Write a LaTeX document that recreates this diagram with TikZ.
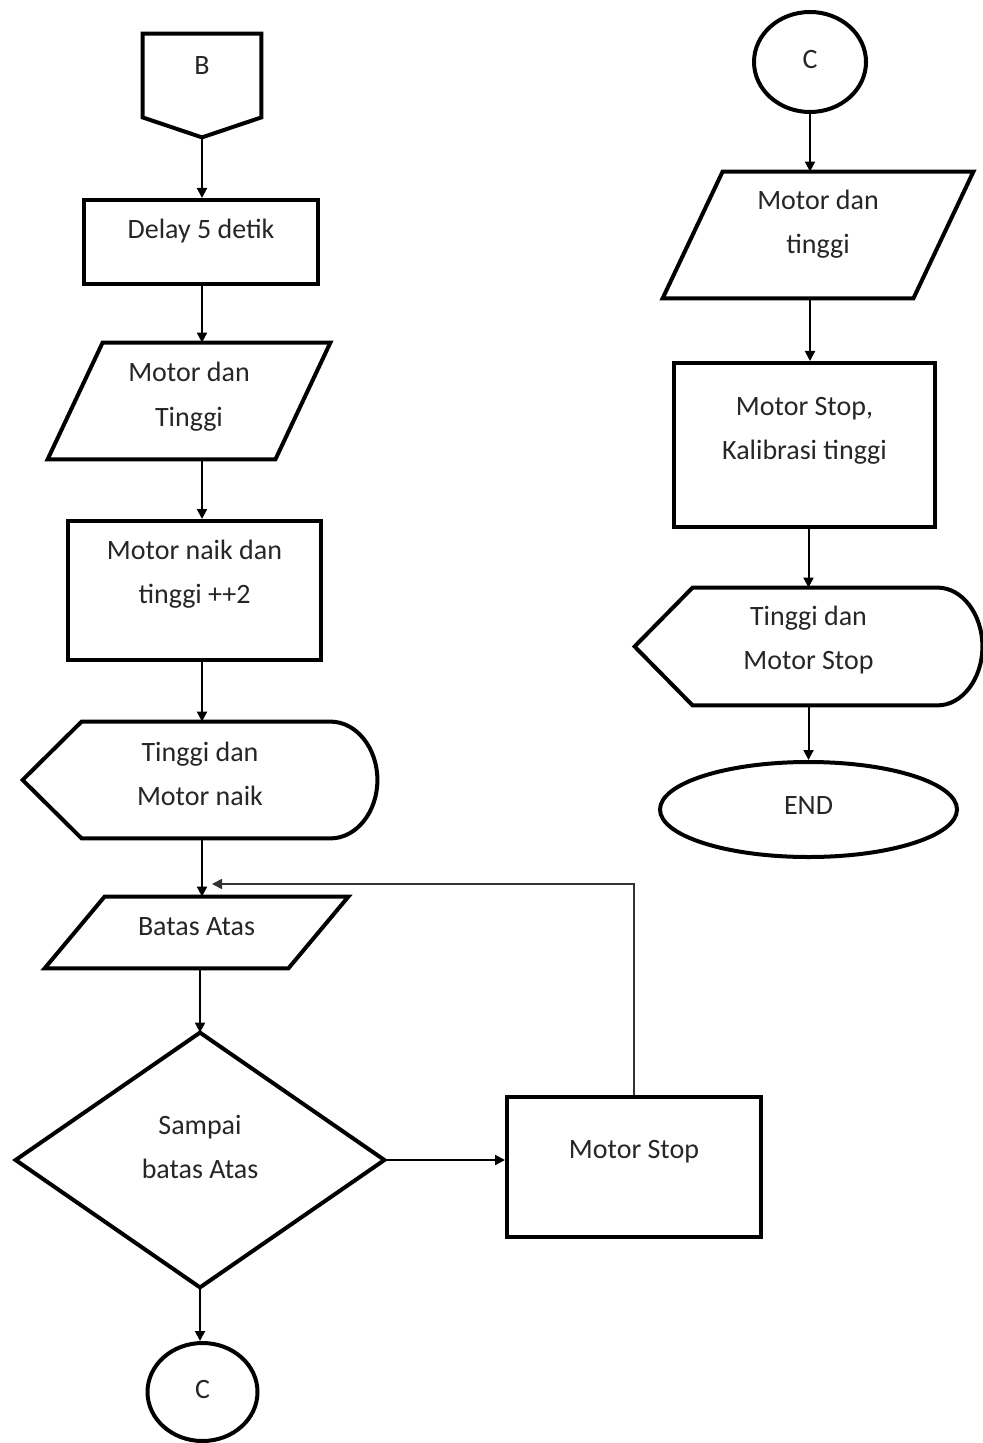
\documentclass[tikz,border=0pt]{standalone}
\usepackage{fontspec}
\setmainfont{Carlito}
\usetikzlibrary{arrows.meta,shapes.geometric}
\newcommand\txtup[2]{\raisebox{#1}[0pt][0pt]{\begin{tabular}{@{}c@{}}#2\end{tabular}}}
\begin{document}
\begin{tikzpicture}[x=0.5pt,y=-0.5pt,
  lbl/.style={inner sep=0pt, font=\fontsize{14}{22}\selectfont, text=black!85},
  rbox/.style={lbl, draw, line width=2pt},
  oval/.style={lbl, draw, line width=2pt, ellipse},
  outline/.style={line width=2pt, line join=miter},
  conn/.style={line width=1pt, -{Triangle[length=5pt,width=5pt]}},
  loopline/.style={line width=0.8pt, draw=black!80, -{Triangle[length=5pt,width=5pt]}}]
\useasboundingbox (0,0) rectangle (982,1443);
\fill[white] (0,0) rectangle (982,1443);

% ---------- left column ----------
\node[lbl, minimum width=59pt, minimum height=51.5pt] (B) at (202,85.5) {\txtup{6.2pt}{B}};
\draw[outline] (B.north west) -- (B.north east) -- ([yshift=10pt]B.south east) -- (B.south) -- ([yshift=10pt]B.south west) -- cycle;

\node[rbox, minimum width=117pt, minimum height=42pt] (delay) at (201,242) {\txtup{2.3pt}{Delay 5 detik}};

\node[lbl, minimum width=141pt, minimum height=58pt] (P1) at (189,401) {\txtup{-0.7pt}{Motor dan\\Tinggi}};
\draw[outline] ([xshift=27.5pt]P1.north west) -- (P1.north east) -- ([xshift=-27.5pt]P1.south east) -- (P1.south west) -- cycle;

\node[rbox, minimum width=126.5pt, minimum height=69.5pt] (mn) at (194.5,590.5) {\txtup{5.5pt}{Motor naik dan\\tinggi ++2}};

\node[lbl, minimum width=177pt, minimum height=58pt] (D1) at (200,780) {\txtup{-0.7pt}{Tinggi dan\\Motor naik}};
\draw[outline] (D1.west) -- ([xshift=29.5pt]D1.north west) -- ([xshift=-23.5pt]D1.north east)
  .. controls +(26,0) and +(0,-32) .. (D1.east)
  .. controls +(0,32) and +(26,0) .. ([xshift=-23.5pt]D1.south east)
  -- ([xshift=29.5pt]D1.south west) -- cycle;

\node[lbl, minimum width=151.5pt, minimum height=35.5pt] (P2) at (196.5,932.5) {\txtup{-0.8pt}{Batas Atas}};
\draw[outline] ([xshift=30pt]P2.north west) -- (P2.north east) -- ([xshift=-30pt]P2.south east) -- (P2.south west) -- cycle;

\node[lbl, minimum width=184pt, minimum height=127pt] (Dm) at (200,1160) {\txtup{2.8pt}{Sampai\\batas Atas}};
\draw[outline] (Dm.north) -- (Dm.east) -- (Dm.south) -- (Dm.west) -- cycle;

\node[rbox, minimum width=127pt, minimum height=70pt] (MS) at (634,1167) {\txtup{5.2pt}{Motor Stop}};

\node[oval, minimum width=55pt, minimum height=49pt] (C1) at (202.5,1392) {\txtup{-2.6pt}{C}};

\coordinate (loop) at (212,884);

% ---------- right column ----------
\node[oval, minimum width=56pt, minimum height=50pt] (C2) at (810,62) {\txtup{-2.6pt}{C}};

\node[lbl, minimum width=155pt, minimum height=63pt] (P3) at (818,235) {\txtup{2.3pt}{Motor dan\\tinggi}};
\draw[outline] ([xshift=30pt]P3.north west) -- (P3.north east) -- ([xshift=-30pt]P3.south east) -- (P3.south west) -- cycle;

\node[rbox, minimum width=130.5pt, minimum height=82pt] (K) at (804.5,445) {\txtup{4.8pt}{Motor Stop,\\Kalibrasi tinggi}};

\node[lbl, minimum width=173.5pt, minimum height=58.5pt] (D2) at (808.5,646.5) {\txtup{0.5pt}{Tinggi dan\\Motor Stop}};
\draw[outline] (D2.west) -- ([xshift=29pt]D2.north west) -- ([xshift=-22.5pt]D2.north east)
  .. controls +(25,0) and +(0,-32) .. (D2.east)
  .. controls +(0,32) and +(25,0) .. ([xshift=-22.5pt]D2.south east)
  -- ([xshift=29pt]D2.south west) -- cycle;

\node[oval, minimum width=148.5pt, minimum height=47.5pt] (END) at (808.5,809.5) {\txtup{-1.9pt}{END}};

% ---------- connectors ----------
\draw[conn] (B.south) -- (B.south |- delay.north);
\draw[conn] (delay.south -| B.south) -- (B.south |- P1.north);
\draw[conn] (B.south |- P1.south) -- (B.south |- mn.north);
\draw[conn] (B.south |- mn.south) -- (B.south |- D1.north);
\draw[conn] (B.south |- D1.south) -- (B.south |- P2.north);
\draw[conn] (Dm.north |- P2.south) -- (Dm.north);
\draw[conn] (Dm.south) -- (Dm.south |- C1.north);
\draw[conn] (Dm.east) -- (Dm.east -| MS.west);
\draw[loopline] (MS.north) |- (loop);

\draw[conn] (C2.south) -- (C2.south |- P3.north);
\draw[conn] (C2.south |- P3.south) -- (C2.south |- K.north);
\draw[conn] (D2.north |- K.south) -- (D2.north);
\draw[conn] (D2.south) -- (END.north);
\end{tikzpicture}
\end{document}
